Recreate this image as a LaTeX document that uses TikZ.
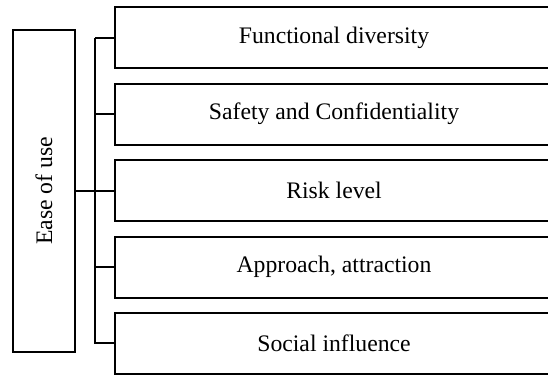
\documentclass[tikz,border=0pt]{standalone}
\usepackage{fontspec}
\setmainfont{Liberation Serif}
\begin{document}
\begin{tikzpicture}[x=1pt,y=-1pt,
  boxline/.style={draw=black,line width=2pt},
  itembox/.style={boxline,minimum width=438pt,minimum height=61pt,inner sep=0pt,
    font=\fontsize{23.7}{28}\selectfont},
  conn/.style={draw=black,line width=2pt}]
\useasboundingbox (0,0) rectangle (548,375);
\clip (0,0) rectangle (548,375);
\fill[white] (0,0) rectangle (548,375);
\node[boxline,minimum width=62pt,minimum height=322pt,inner sep=0pt] (ease) at (44,191) {};
\node[rotate=90,font=\fontsize{23.7}{28}\selectfont] (easelabel) at (ease.center) {Ease of use};
\node[itembox] (b1) at (334,37.5) {Functional diversity};
\node[itembox] (b2) at (334,114) {Safety and Confidentiality};
\node[itembox] (b3) at (334,190.5) {Risk level};
\node[itembox] (b4) at (334,267) {Approach, attraction};
\node[itembox] (b5) at (334,343) {Social influence};
\draw[conn] (b1.west) -- ++(-19,0) coordinate (bt);
\draw[conn] (bt) |- (b5.west);
\draw[conn] (b2.west) -- ++(-19,0);
\draw[conn] (b4.west) -- ++(-19,0);
\draw[conn] (ease.east |- b3.west) -- (b3.west);
\end{tikzpicture}
\end{document}
